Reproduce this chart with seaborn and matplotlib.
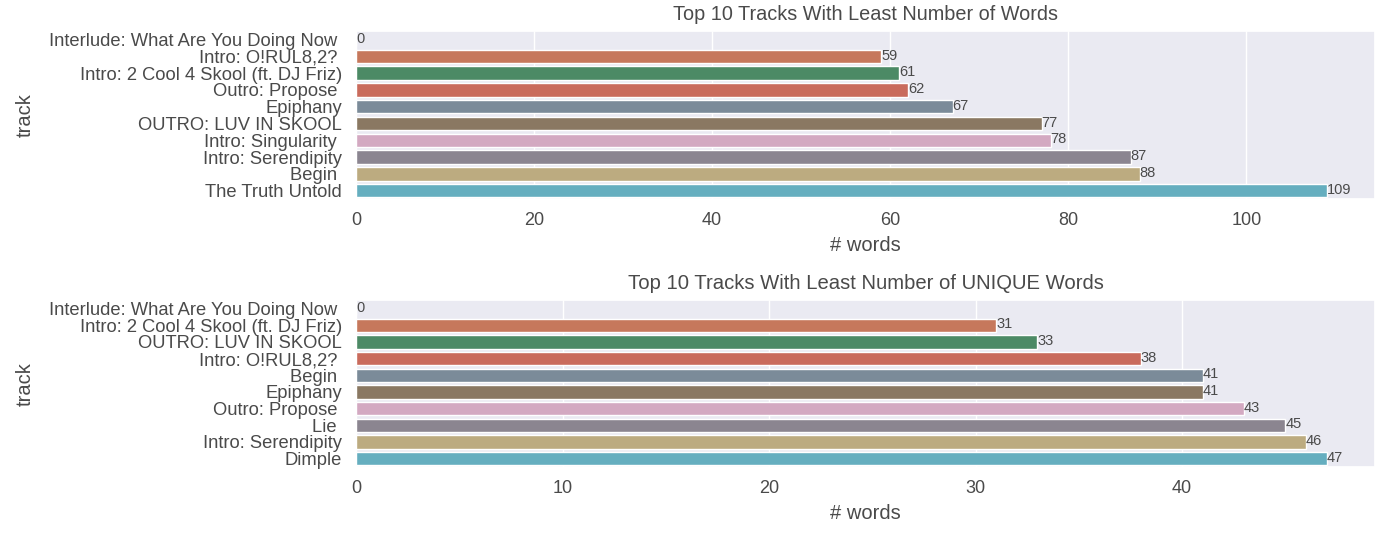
import matplotlib
matplotlib.use("Agg")
import matplotlib.pyplot as plt
import seaborn as sns
import pandas as pd

tracks_words = ["Interlude: What Are You Doing Now ", "Intro: O!RUL8,2? ", "Intro: 2 Cool 4 Skool (ft. DJ Friz)",
                "Outro: Propose ", "Epiphany", "OUTRO: LUV IN SKOOL", "Intro: Singularity ",
                "Intro: Serendipity", "Begin ", "The Truth Untold"]
words = [0, 59, 61, 62, 67, 77, 78, 87, 88, 109]

tracks_unique = ["Interlude: What Are You Doing Now ", "Intro: 2 Cool 4 Skool (ft. DJ Friz)", "OUTRO: LUV IN SKOOL",
                 "Intro: O!RUL8,2? ", "Begin ", "Epiphany", "Outro: Propose ", "Lie ",
                 "Intro: Serendipity", "Dimple"]
unique_words = [0, 31, 33, 38, 41, 41, 43, 45, 46, 47]

palette = ["#9a9aa8", "#c6785c", "#4c8a65", "#c96b5c", "#7b8b99",
           "#8a7862", "#d3a9c1", "#8b8590", "#bcab80", "#65aebf"]

sns.set_theme(style="darkgrid")
plt.rcParams["font.family"] = ["Liberation Sans", "DejaVu Sans"]
txt = "#4a4a4a"
plt.rcParams.update({"text.color": txt, "axes.labelcolor": txt,
                     "xtick.color": txt, "ytick.color": txt})

fig = plt.figure(figsize=(14, 5.38), dpi=100)
ax1 = fig.add_axes([0.2543, 0.630, 0.7279, 0.312])
ax2 = fig.add_axes([0.2543, 0.132, 0.7279, 0.310])

def draw(ax, names, vals, title, tsize):
    df = pd.DataFrame({"track": names, "# words": vals})
    sns.barplot(data=df, y="track", x="# words", hue="track", palette=palette,
                saturation=1, legend=False, ax=ax, orient="h",
                edgecolor="white", linewidth=1)
    for i, v in enumerate(vals):
        ax.text(v, i - 0.05, str(v), va="center", ha="left", fontsize=10.5, color=txt)
    ax.set_title(title, fontsize=tsize, color=txt, pad=8)
    ax.tick_params(axis="y", labelsize=13.2, pad=4)
    ax.tick_params(axis="x", labelsize=13)
    ax.set_xlabel("# words", fontsize=14.5, labelpad=5)
    ax.set_ylabel("track", fontsize=14.5, labelpad=10)

draw(ax1, tracks_words, words, "Top 10 Tracks With Least Number of Words", 14.3)
draw(ax2, tracks_unique, unique_words, "Top 10 Tracks With Least Number of UNIQUE Words", 14.6)

fig.savefig("out.png", dpi=100)
